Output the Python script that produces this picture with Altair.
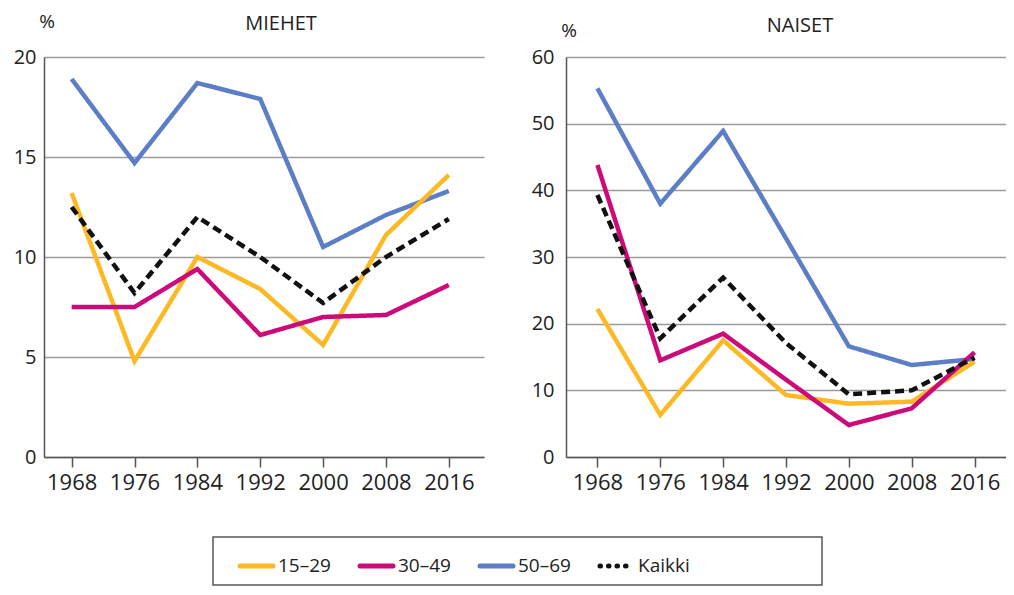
import altair as alt
import pandas as pd

years = ["1968", "1976", "1984", "1992", "2000", "2008", "2016"]
groups = ["15–29", "30–49", "50–69", "Kaikki"]
draw_order = ["50–69", "15–29", "30–49", "Kaikki"]
colors = ["#FDB924", "#CC0A7A", "#5B7EC6", "#111111"]

miehet_15_29 = [13.2, 4.8, 10.0, 8.4, 5.6, 11.1, 14.1]
miehet_30_49 = [7.5, 7.5, 9.4, 6.1, 7.0, 7.1, 8.6]
miehet_50_69 = [18.9, 14.7, 18.7, 17.9, 10.5, 12.1, 13.3]
miehet_kaikki = [12.5, 8.2, 12.0, 10.0, 7.7, 10.0, 11.9]

naiset_15_29 = [22.2, 6.3, 17.5, 9.3, 8.0, 8.3, 14.3]
naiset_30_49 = [43.8, 14.5, 18.5, 11.6, 4.8, 7.3, 15.7]
naiset_50_69 = [55.3, 38.0, 48.9, 32.8, 16.6, 13.8, 14.7]
naiset_kaikki = [39.3, 17.8, 26.9, 17.1, 9.4, 10.0, 14.9]

panel_titles = ["MIEHET", "NAISET"]
unit_label = "%"

FONT = "Open Sans"
TXT = "#222222"
W, H = 440, 400


def make_df(series):
    rows = []
    for g in draw_order:
        for y, v in zip(years, series[g]):
            rows.append({"year": y, "group": g, "value": v})
    return pd.DataFrame(rows)


def panel(series, title, ymax, ystep, align, label_pad, title_dx, title_y, pct_y):
    df = make_df(series)
    lines = alt.Chart(df).mark_line(strokeWidth=4.5).encode(
        x=alt.X("year:O", sort=years,
                scale=alt.Scale(type="point", padding=0.5, align=align),
                axis=alt.Axis(title=None, labelAngle=0, tickSize=10, tickWidth=1.5,
                              tickColor="#555", domainColor="#555", domainWidth=1.5,
                              labelFontSize=22, labelColor=TXT, labelFont=FONT,
                              labelPadding=5, grid=False)),
        y=alt.Y("value:Q", scale=alt.Scale(domain=[0, ymax], nice=False),
                axis=alt.Axis(values=list(range(0, ymax + 1, ystep)), title=None,
                              ticks=False, grid=True, gridColor="#9a9a9a", gridWidth=1.5,
                              domainColor="#555", domainWidth=1.5, labelFontSize=20,
                              labelColor=TXT, labelFont=FONT, labelPadding=label_pad)),
        color=alt.Color("group:N", scale=alt.Scale(domain=groups, range=colors), legend=None),
        strokeDash=alt.StrokeDash("group:N", scale=alt.Scale(
            domain=groups, range=[[1, 0], [1, 0], [1, 0], [9, 5]]), legend=None),
    )
    ttl = alt.Chart(pd.DataFrame({"t": [title]})).mark_text(
        fontSize=20, font=FONT, color=TXT, align="center", baseline="middle"
    ).encode(x=alt.value(W / 2 + title_dx), y=alt.value(title_y), text="t:N")
    pct = alt.Chart(pd.DataFrame({"t": [unit_label]})).mark_text(
        fontSize=19, font=FONT, color=TXT, align="center", baseline="middle"
    ).encode(x=alt.value(3), y=alt.value(pct_y), text="t:N")
    return alt.layer(lines, ttl, pct).properties(width=W, height=H)


left = panel({"15–29": miehet_15_29, "30–49": miehet_30_49,
              "50–69": miehet_50_69, "Kaikki": miehet_kaikki},
             panel_titles[0], 20, 5, 0.44, 8, 17, -33, -35)
right = panel({"15–29": naiset_15_29, "30–49": naiset_30_49,
               "50–69": naiset_50_69, "Kaikki": naiset_kaikki},
              panel_titles[1], 60, 10, 0.5, 12, 14, -31, -26)

leg_df = pd.DataFrame({"group": groups})
leg_x = alt.X("group:N", sort=groups,
              scale=alt.Scale(type="point", range=[27, 387], padding=0), axis=None)
leg_sym = alt.Chart(leg_df).mark_rule(strokeWidth=5, x2Offset=33, strokeCap="round").encode(
    x=leg_x, x2=alt.X2("group"), y=alt.value(29),
    color=alt.Color("group:N", scale=alt.Scale(domain=groups, range=colors), legend=None),
    strokeDash=alt.StrokeDash("group:N", scale=alt.Scale(
        domain=groups, range=[[1, 0], [1, 0], [1, 0], [0.5, 8]]), legend=None),
)
leg_txt = alt.Chart(leg_df).mark_text(align="left", baseline="middle", dx=38,
                                      fontSize=19, font=FONT, color=TXT).encode(
    x=leg_x, y=alt.value(29), text="group:N")
legend = alt.layer(leg_sym, leg_txt).properties(
    width=609, height=48,
    view=alt.ViewBackground(stroke="#555", strokeWidth=1.5),
)

spacer = alt.Chart(pd.DataFrame({"a": [0]})).mark_point(opacity=0).encode(
    x=alt.value(0), y=alt.value(0)).properties(width=1, height=1)

top = alt.hconcat(left, right, spacing=47)
bottom = alt.hconcat(spacer, legend, spacing=165)
chart = alt.vconcat(top, bottom, spacing=41).resolve_scale(
    strokeDash="independent"
).configure_view(stroke=None).properties(
    padding={"left": 5, "top": 5, "right": 0, "bottom": 0})

chart.save("out.html", embed_options={"renderer": "svg", "actions": False})
